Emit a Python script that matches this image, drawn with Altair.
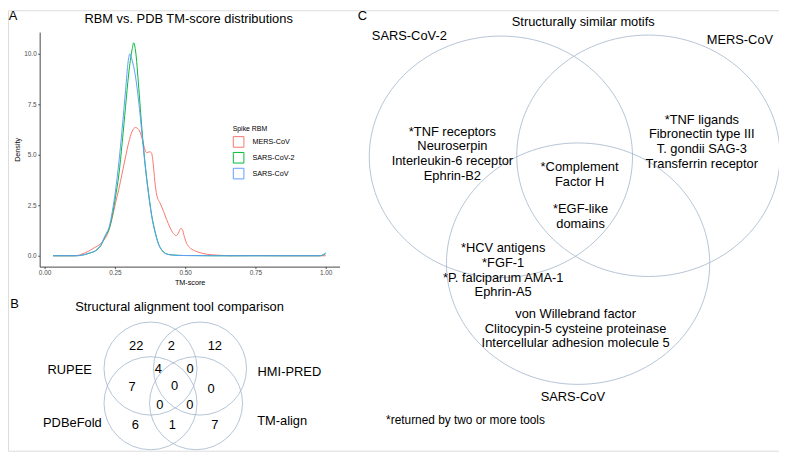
import altair as alt
import pandas as pd

# ---------------- Panel A: TM-score density curves ----------------
series_names = ["MERS-CoV", "SARS-CoV-2", "SARS-CoV"]
series_colors = ["#F8766D", "#00BA38", "#619CFF"]

mers_tm = [0.03, 0.10, 0.12, 0.135, 0.147, 0.164, 0.18, 0.194, 0.211, 0.223,
           0.229, 0.241, 0.252, 0.264, 0.276, 0.288, 0.299, 0.311, 0.323, 0.335,
           0.346, 0.356, 0.363, 0.372, 0.380, 0.386, 0.392, 0.399, 0.411, 0.423,
           0.434, 0.446, 0.458, 0.468, 0.476, 0.484, 0.490, 0.497, 0.505, 0.515,
           0.534, 0.558, 0.593, 0.63, 0.66, 0.75, 0.85, 1.0]
mers_density = [0, 0, 0.02, 0.1, 0.16, 0.29, 0.42, 0.54, 0.78, 1.05,
                1.3, 1.9, 2.6, 3.3, 4.1, 4.9, 5.6, 6.15, 6.35, 6.25,
                5.85, 5.3, 5.1, 5.15, 5.1, 4.6, 3.7, 3.0, 2.6, 2.2,
                1.8, 1.4, 1.1, 1.0, 1.12, 1.35, 1.3, 0.95, 0.62, 0.42,
                0.25, 0.13, 0.05, 0.02, 0.0, 0.01, 0.0, 0.0]

sars2_tm = [0.03, 0.11, 0.13, 0.158, 0.182, 0.2, 0.217, 0.229, 0.241, 0.252,
            0.264, 0.276, 0.288, 0.299, 0.311, 0.317, 0.323, 0.335, 0.346, 0.358,
            0.37, 0.381, 0.393, 0.405, 0.417, 0.428, 0.452, 0.5, 0.6, 0.8,
            0.98, 1.0]
sars2_density = [0, 0, 0.02, 0.12, 0.25, 0.5, 1.0, 1.3, 2.0, 2.9,
                 4.0, 5.6, 7.4, 9.0, 10.2, 10.55, 10.2, 8.3, 6.3, 4.5,
                 3.1, 2.0, 1.2, 0.6, 0.28, 0.13, 0.04, 0.01, 0, 0,
                 0, 0.1]

sars1_tm = [0.03, 0.11, 0.13, 0.158, 0.182, 0.2, 0.217, 0.229, 0.241, 0.252,
            0.264, 0.276, 0.288, 0.297, 0.303, 0.311, 0.323, 0.335, 0.346, 0.358,
            0.37, 0.381, 0.393, 0.405, 0.417, 0.428, 0.452, 0.5, 0.6, 0.8,
            0.98, 0.99, 1.0]
sars1_density = [0, 0, 0.02, 0.13, 0.27, 0.55, 1.05, 1.4, 2.2, 3.2,
                 4.6, 6.3, 8.2, 9.6, 10.0, 9.7, 8.9, 7.6, 6.1, 4.4,
                 3.0, 1.95, 1.15, 0.58, 0.27, 0.12, 0.04, 0.01, 0, 0,
                 0, 0.05, 0.15]

x_ticks = [0.0, 0.25, 0.5, 0.75, 1.0]
y_ticks = [0.0, 2.5, 5.0, 7.5, 10.0]

# ---------------- Panel B: tool-comparison Venn ----------------
b_title = "Structural alignment tool comparison"
b_sets = ["RUPEE", "HMI-PRED", "PDBeFold", "TM-align"]
b_counts = ["22", "2", "12", "4", "0", "7", "0", "0", "0", "0", "6", "1", "7"]

# ---------------- Panel C: motif Venn ----------------
c_title = "Structurally similar motifs"
c_sets = ["SARS-CoV-2", "MERS-CoV", "SARS-CoV"]
c_motifs = [
    "*TNF receptors\nNeuroserpin\nInterleukin-6 receptor\nEphrin-B2",
    "*TNF ligands\nFibronectin type III\nT. gondii SAG-3\nTransferrin receptor",
    "*Complement\nFactor H",
    "*EGF-like\ndomains",
    "*HCV antigens\n*FGF-1\n*P. falciparum AMA-1\nEphrin-A5",
    "von Willebrand factor\nClitocypin-5 cysteine proteinase\nIntercellular adhesion molecule 5",
]
c_note = "*returned by two or more tools"
panel_letters = ["A", "B", "C"]

# ---------------- layout (figure pixel coordinates) ----------------
letter_xy = [(13, 14), (14.5, 304.5), (366, 14)]
a_title_xy = (190.5, 17)
b_title_xy = (181.3, 308.3)
b_set_xy = [(70.3, 371), (292.3, 373.3), (73, 425), (285, 423.3)]
b_count_xy = [(137.5, 347.5), (173, 347.5), (217, 347.5), (160, 370), (192, 370),
              (133.3, 389), (176.3, 387.7), (213.3, 391), (161.3, 406.5),
              (191.7, 406.5), (136.7, 427.5), (174, 427.5), (217, 427.5)]
b_circle_xy = [(152, 370), (202, 370), (152, 405), (198, 405)]
c_title_xy = (589.2, 20)
c_set_xy = [(413.5, 34), (747.5, 38.5), (578.7, 398.3)]
c_motif_xy = [(457, 130.8), (709, 118.7), (585.5, 166.7), (586.5, 208.8),
              (508.3, 248.7), (581.5, 314.8)]
c_circle_xy = [(506, 156), (655, 155), (584, 264)]
c_note_xy = (390, 422.3)

FONT = "Liberation Sans"
W, H = 779, 445
CIRCLE_COLOR = "#a3b6cb"

# ---------------- Panel A chart ----------------
rows = []
for name, xs, ys in [("MERS-CoV", mers_tm, mers_density),
                     ("SARS-CoV-2", sars2_tm, sars2_density),
                     ("SARS-CoV", sars1_tm, sars1_density)]:
    for a, b in zip(xs, ys):
        rows.append({"series": name, "tm": a, "density": b})
dens = pd.DataFrame(rows)

axis_common = dict(grid=False, labelFont=FONT, titleFont=FONT, labelFontSize=6.5,
                   labelColor="#4d4d4d", titleFontSize=7.3, titleFontWeight="normal",
                   titleColor="black", domainColor="#1a1a1a", domainWidth=0.8,
                   tickColor="#333333", tickWidth=0.8, tickSize=2, labelFlush=False,
                   labelOverlap=False)

panel_a = alt.Chart(dens).mark_line(strokeWidth=1, interpolate="monotone").encode(
    x=alt.X("tm:Q",
            scale=alt.Scale(domain=[-0.0176, 1.0493], range=[32, 335], nice=False, zero=False),
            axis=alt.Axis(values=x_ticks, format=".2f", title="TM-score", offset=-(H - 259),
                          labelPadding=0.5, titlePadding=3, **axis_common)),
    y=alt.Y("density:Q",
            scale=alt.Scale(domain=[-0.539, 11.08], range=[259, 22], nice=False, zero=False),
            axis=alt.Axis(values=y_ticks, format=".1f", title="Density", offset=-32,
                          labelPadding=1.5, titlePadding=2, **axis_common)),
    color=alt.Color("series:N",
                    scale=alt.Scale(domain=series_names, range=series_colors),
                    legend=alt.Legend(title="Spike RBM", orient="none", legendX=227, legendY=115.5,
                                      symbolType="square", symbolSize=115, symbolStrokeWidth=1,
                                      symbolFillColor="white", labelFont=FONT, titleFont=FONT,
                                      labelFontSize=7.3, titleFontSize=7, titleFontWeight="normal",
                                      labelColor="black", titleColor="black", labelOffset=8,
                                      rowPadding=0, titlePadding=4.5, padding=0)),
    detail="series:N",
)

# ---------------- Venn / annotation layers ----------------
fx = alt.Scale(domain=[8, 8 + W], range=[0, W], nice=False, zero=False)
fy = alt.Scale(domain=[8, 8 + H], range=[0, H], nice=False, zero=False)


def pos_enc():
    return dict(x=alt.X("x:Q", scale=fx, axis=None), y=alt.Y("y:Q", scale=fy, axis=None))


big_text = pd.DataFrame(
    [{"label": t, "x": p[0], "y": p[1]} for t, p in zip(panel_letters, letter_xy)]
    + [{"label": "RBM vs. PDB TM-score distributions", "x": a_title_xy[0], "y": a_title_xy[1]},
       {"label": b_title, "x": b_title_xy[0], "y": b_title_xy[1]},
       {"label": c_title, "x": c_title_xy[0], "y": c_title_xy[1]}]
    + [{"label": t, "x": p[0], "y": p[1]} for t, p in zip(b_sets, b_set_xy)]
    + [{"label": t, "x": p[0], "y": p[1]} for t, p in zip(b_counts, b_count_xy)]
    + [{"label": t, "x": p[0], "y": p[1]} for t, p in zip(c_sets, c_set_xy)]
    + [{"label": t, "x": p[0], "y": p[1]} for t, p in zip(c_motifs, c_motif_xy)]
)

text_layer = alt.Chart(big_text).mark_text(
    font=FONT, fontSize=13, color="black", align="center", baseline="middle",
    lineBreak="\n", lineHeight=14.8
).encode(text="label:N", **pos_enc())

note_layer = alt.Chart(pd.DataFrame([{"label": c_note, "x": c_note_xy[0], "y": c_note_xy[1]}])).mark_text(
    font=FONT, fontSize=12, color="black", align="left", baseline="middle"
).encode(text="label:N", **pos_enc())

b_circles = alt.Chart(pd.DataFrame(
    [{"set": s, "x": p[0], "y": p[1]} for s, p in zip(b_sets, b_circle_xy)]
)).mark_point(shape="circle", size=94 * 94, filled=False, stroke=CIRCLE_COLOR,
              strokeWidth=0.8, opacity=1).encode(**pos_enc())

ry = 0.917
k = 0.5523
ellipse = (f"M -1 0 C -1 {-k*ry:.4f} {-k:.4f} {-ry} 0 {-ry} "
           f"C {k:.4f} {-ry} 1 {-k*ry:.4f} 1 0 "
           f"C 1 {k*ry:.4f} {k:.4f} {ry} 0 {ry} "
           f"C {-k:.4f} {ry} -1 {k*ry:.4f} -1 0 Z")

c_circles = alt.Chart(pd.DataFrame(
    [{"set": s, "x": p[0], "y": p[1]} for s, p in zip(c_sets, c_circle_xy)]
)).mark_point(shape=ellipse, size=266 * 266, filled=False, stroke=CIRCLE_COLOR,
              strokeWidth=0.8, opacity=1).encode(**pos_enc())

annot = alt.layer(b_circles, c_circles, text_layer, note_layer)

chart = alt.layer(panel_a, annot).resolve_scale(
    x="independent", y="independent"
).properties(
    width=W, height=H,
    autosize=alt.AutoSizeParams(type="none"),
    padding={"left": 0, "top": 0, "right": 0, "bottom": 0},
).configure_view(stroke=None).configure(background="white", font=FONT)

chart.save("out.html", embed_options={"renderer": "svg", "actions": False})
